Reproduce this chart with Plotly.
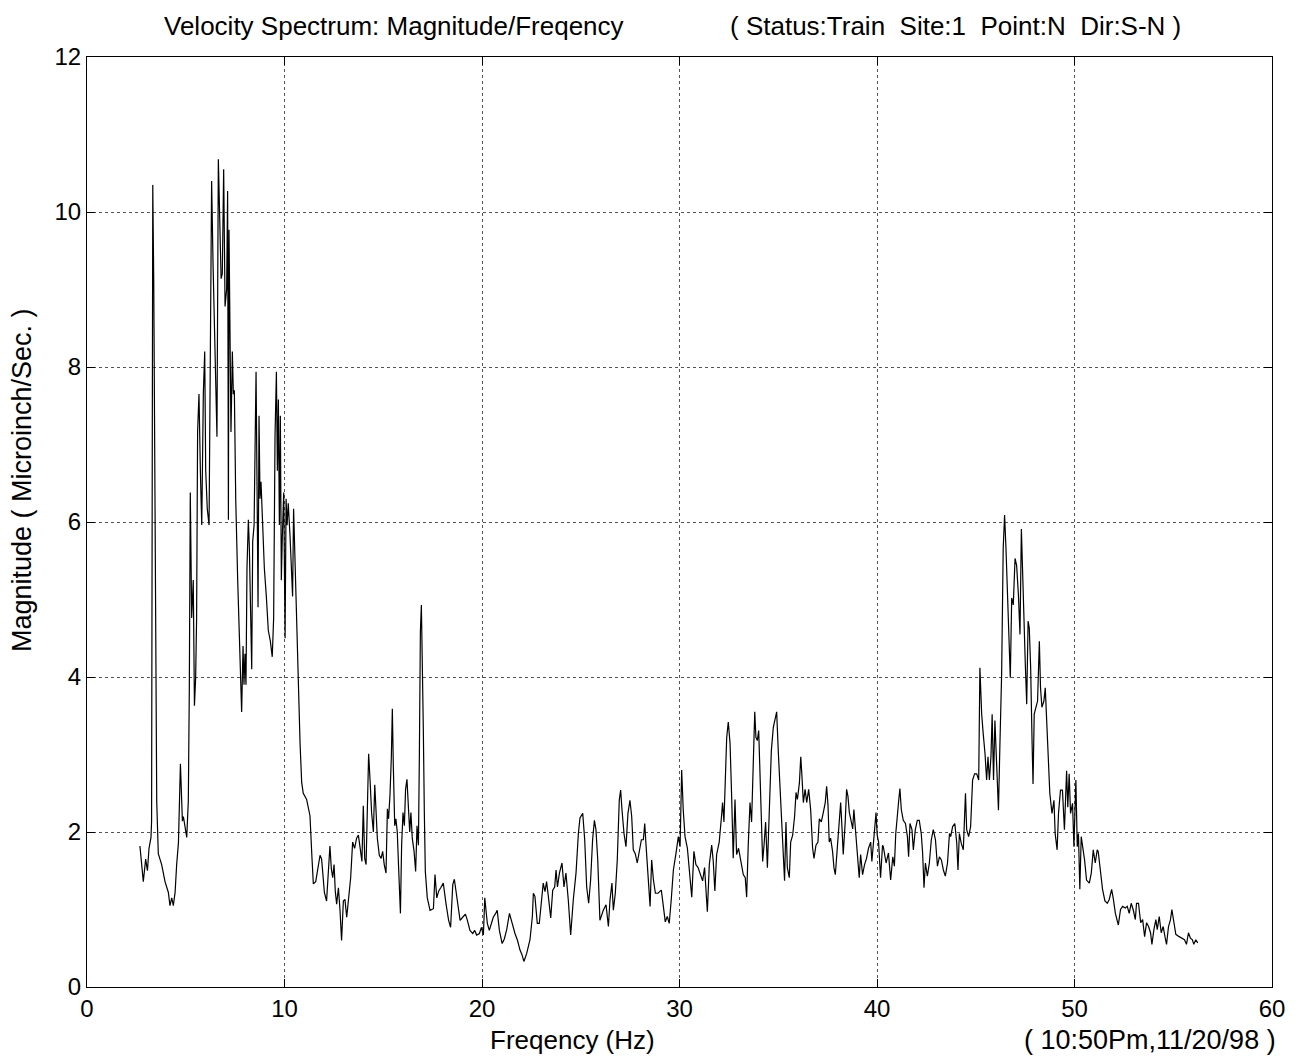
import plotly.graph_objects as go

# Velocity spectrum samples: frequency (Hz) and magnitude (microinch/sec)
freq = [
    2.68, 2.85, 2.97, 3.06, 3.14, 3.24, 3.27, 3.33, 3.38, 3.43, 3.48, 3.53, 3.61, 3.78, 3.95,
    4.12, 4.20, 4.29, 4.37, 4.46, 4.54, 4.63, 4.73, 4.83, 4.88, 4.96, 5.05, 5.13, 5.18, 5.23,
    5.30, 5.38, 5.44, 5.50, 5.55, 5.60, 5.67, 5.74, 5.81, 5.89, 5.96, 6.01, 6.09, 6.18, 6.25,
    6.31, 6.38, 6.45, 6.52, 6.58, 6.65, 6.72, 6.79, 6.85, 6.92, 6.99, 7.07, 7.12, 7.16, 7.19,
    7.24, 7.29, 7.36, 7.41, 7.46, 7.53, 7.63, 7.70, 7.76, 7.83, 7.90, 7.95, 8.00, 8.05, 8.10,
    8.17, 8.22, 8.27, 8.34, 8.39, 8.46, 8.51, 8.56, 8.61, 8.66, 8.71, 8.76, 8.81, 8.88, 8.98,
    9.08, 9.18, 9.28, 9.38, 9.45, 9.52, 9.59, 9.64, 9.69, 9.74, 9.79, 9.84, 9.89, 9.96, 10.03,
    10.08, 10.13, 10.19, 10.28, 10.36, 10.41, 10.46, 10.53, 10.62, 10.70, 10.79, 10.87, 10.95, 11.12, 11.29,
    11.38, 11.46, 11.58, 11.71, 11.80, 11.88, 12.02, 12.13, 12.30, 12.37, 12.44, 12.51, 12.57, 12.64, 12.73,
    12.81, 12.89, 12.98, 13.06, 13.15, 13.25, 13.35, 13.45, 13.55, 13.65, 13.74, 13.79, 13.86, 13.92, 13.99,
    14.06, 14.13, 14.19, 14.26, 14.33, 14.41, 14.50, 14.57, 14.63, 14.70, 14.80, 14.89, 14.97, 15.05, 15.14,
    15.21, 15.27, 15.34, 15.41, 15.46, 15.51, 15.58, 15.64, 15.71, 15.78, 15.87, 15.93, 16.00, 16.07, 16.13,
    16.20, 16.27, 16.34, 16.40, 16.47, 16.56, 16.64, 16.71, 16.78, 16.83, 16.88, 16.93, 16.98, 17.03, 17.08,
    17.13, 17.23, 17.37, 17.54, 17.62, 17.71, 17.81, 17.91, 18.04, 18.18, 18.31, 18.41, 18.52, 18.60, 18.69,
    18.79, 18.89, 19.02, 19.16, 19.26, 19.39, 19.53, 19.63, 19.73, 19.87, 19.97, 20.07, 20.14, 20.20, 20.27,
    20.37, 20.47, 20.57, 20.67, 20.77, 20.88, 21.02, 21.13, 21.25, 21.39, 21.50, 21.67, 21.80, 21.92, 22.02,
    22.12, 22.26, 22.43, 22.55, 22.60, 22.68, 22.80, 22.90, 23.02, 23.10, 23.19, 23.27, 23.36, 23.48, 23.58,
    23.68, 23.75, 23.82, 23.92, 24.05, 24.15, 24.25, 24.37, 24.49, 24.62, 24.76, 24.88, 24.96, 25.10, 25.20,
    25.30, 25.40, 25.50, 25.60, 25.69, 25.77, 25.86, 25.97, 26.14, 26.28, 26.40, 26.48, 26.58, 26.65, 26.75,
    26.85, 26.95, 27.02, 27.09, 27.19, 27.29, 27.39, 27.49, 27.58, 27.66, 27.76, 27.86, 27.96, 28.07, 28.17,
    28.24, 28.30, 28.41, 28.51, 28.59, 28.68, 28.78, 28.91, 29.08, 29.18, 29.28, 29.38, 29.48, 29.58, 29.69,
    29.82, 29.94, 30.03, 30.11, 30.19, 30.28, 30.40, 30.50, 30.62, 30.73, 30.83, 30.94, 31.07, 31.17, 31.27,
    31.41, 31.51, 31.63, 31.71, 31.79, 31.88, 32.01, 32.13, 32.18, 32.25, 32.32, 32.39, 32.47, 32.56, 32.64,
    32.72, 32.81, 32.89, 32.99, 33.10, 33.23, 33.33, 33.40, 33.48, 33.57, 33.65, 33.74, 33.81, 33.87, 33.94,
    34.01, 34.08, 34.14, 34.21, 34.28, 34.36, 34.45, 34.55, 34.65, 34.75, 34.85, 34.92, 35.00, 35.09, 35.19,
    35.26, 35.32, 35.39, 35.46, 35.56, 35.63, 35.73, 35.83, 35.90, 35.97, 36.07, 36.14, 36.20, 36.27, 36.36,
    36.44, 36.54, 36.64, 36.74, 36.81, 36.91, 37.01, 37.08, 37.18, 37.28, 37.38, 37.45, 37.52, 37.58, 37.65,
    37.75, 37.82, 37.89, 37.99, 38.09, 38.16, 38.23, 38.29, 38.39, 38.46, 38.53, 38.60, 38.70, 38.77, 38.83,
    38.93, 39.04, 39.10, 39.17, 39.27, 39.37, 39.47, 39.57, 39.68, 39.74, 39.84, 39.95, 40.01, 40.08, 40.18,
    40.28, 40.32, 40.46, 40.58, 40.69, 40.80, 40.88, 40.95, 41.01, 41.10, 41.16, 41.23, 41.33, 41.44, 41.54,
    41.60, 41.67, 41.77, 41.84, 41.94, 42.04, 42.14, 42.24, 42.31, 42.38, 42.45, 42.55, 42.65, 42.75, 42.85,
    42.96, 43.06, 43.16, 43.26, 43.36, 43.46, 43.57, 43.67, 43.73, 43.83, 43.94, 44.04, 44.10, 44.17, 44.27,
    44.37, 44.48, 44.54, 44.64, 44.74, 44.84, 44.94, 45.05, 45.15, 45.21, 45.30, 45.38, 45.47, 45.55, 45.62,
    45.69, 45.77, 45.83, 45.90, 45.97, 46.05, 46.15, 46.22, 46.31, 46.39, 46.46, 46.53, 46.59, 46.66, 46.75,
    46.82, 46.90, 46.99, 47.07, 47.16, 47.24, 47.31, 47.38, 47.44, 47.51, 47.58, 47.65, 47.71, 47.78, 47.85,
    47.90, 47.96, 48.05, 48.13, 48.22, 48.28, 48.35, 48.45, 48.52, 48.58, 48.67, 48.75, 48.86, 48.96, 49.02,
    49.12, 49.19, 49.29, 49.39, 49.49, 49.60, 49.66, 49.73, 49.80, 49.90, 49.97, 50.07, 50.14, 50.20, 50.27,
    50.34, 50.41, 50.51, 50.61, 50.75, 50.85, 50.95, 51.05, 51.15, 51.20, 51.29, 51.42, 51.54, 51.66, 51.76,
    51.88, 51.97, 52.07, 52.22, 52.33, 52.44, 52.57, 52.67, 52.77, 52.87, 52.97, 53.08, 53.14, 53.24, 53.35,
    53.45, 53.55, 53.65, 53.75, 53.85, 53.92, 54.02, 54.12, 54.19, 54.29, 54.39, 54.49, 54.58, 54.66, 54.76,
    54.86, 54.93, 55.03, 55.13, 55.30, 55.47, 55.57, 55.67, 55.77, 55.87, 55.97, 56.04, 56.14, 56.24,
]

mag = [
    1.82, 1.36, 1.65, 1.50, 1.79, 1.93, 2.14, 10.35, 9.07, 6.66, 4.00, 2.40, 1.72, 1.58, 1.36,
    1.22, 1.05, 1.15, 1.05, 1.22, 1.58, 1.86, 2.88, 2.14, 2.20, 2.07, 1.93, 2.40, 3.84, 6.38,
    4.76, 5.25, 3.63, 3.98, 4.76, 7.16, 7.65, 6.66, 5.96, 7.65, 8.20, 6.66, 6.17, 5.96, 8.10,
    10.40, 9.35, 8.43, 7.80, 7.10, 10.68, 9.85, 9.14, 9.20, 10.55, 8.78, 9.00, 10.27, 6.03, 9.77,
    8.30, 7.16, 8.20, 7.65, 7.70, 6.30, 5.25, 4.70, 4.26, 3.55, 4.40, 3.90, 4.30, 3.90, 5.40,
    6.03, 5.67, 5.10, 4.10, 5.75, 5.96, 6.95, 7.94, 6.45, 4.90, 7.37, 6.30, 6.52, 5.96, 5.40,
    5.04, 4.60, 4.47, 4.26, 4.76, 7.10, 7.94, 6.66, 7.58, 5.96, 7.37, 5.25, 5.82, 6.38, 4.50,
    6.30, 5.96, 6.24, 5.82, 5.40, 5.04, 6.17, 5.53, 4.69, 3.84, 3.13, 2.64, 2.50, 2.42, 2.21,
    1.72, 1.33, 1.36, 1.60, 1.70, 1.65, 1.22, 1.11, 1.82, 1.53, 1.41, 1.58, 1.24, 1.07, 1.28,
    0.99, 0.60, 1.11, 1.13, 0.90, 1.15, 1.41, 1.87, 1.79, 1.92, 1.96, 1.87, 1.75, 1.62, 2.34,
    1.66, 1.58, 2.25, 3.01, 2.68, 2.25, 2.00, 2.61, 2.30, 1.92, 1.70, 1.66, 1.75, 1.58, 1.47,
    2.30, 2.17, 2.47, 2.97, 3.59, 2.85, 2.08, 2.17, 2.00, 1.53, 0.95, 1.83, 2.25, 2.08, 2.55,
    2.68, 2.30, 2.00, 2.25, 1.92, 1.75, 1.49, 2.08, 1.83, 3.01, 4.58, 4.93, 4.28, 3.31, 2.25,
    1.49, 1.15, 0.99, 1.01, 1.45, 1.15, 1.24, 1.28, 1.34, 1.07, 0.86, 0.77, 1.32, 1.39, 1.24,
    1.03, 0.86, 0.90, 0.94, 0.86, 0.73, 0.69, 0.73, 0.67, 0.69, 0.77, 0.67, 1.15, 0.99, 0.82,
    0.73, 0.82, 0.90, 0.94, 0.99, 0.73, 0.56, 0.62, 0.74, 0.95, 0.84, 0.69, 0.60, 0.48, 0.42,
    0.33, 0.43, 0.61, 0.91, 1.21, 1.17, 0.82, 0.82, 1.17, 1.34, 1.23, 1.36, 1.17, 0.89, 1.25,
    1.29, 1.51, 1.29, 1.47, 1.60, 1.29, 1.47, 1.12, 0.67, 1.12, 1.47, 1.98, 2.18, 2.24, 1.90,
    1.29, 1.08, 1.38, 1.90, 2.15, 2.03, 1.64, 0.86, 0.99, 1.06, 0.78, 1.12, 1.34, 0.99, 1.21,
    1.64, 2.41, 2.54, 2.28, 1.98, 1.81, 2.24, 2.41, 2.20, 1.77, 1.72, 1.60, 1.77, 1.90, 1.90,
    2.11, 1.85, 1.38, 1.04, 1.64, 1.38, 1.21, 1.21, 1.25, 1.04, 0.84, 0.91, 0.82, 1.12, 1.51,
    1.72, 1.94, 1.81, 2.80, 2.28, 1.94, 1.79, 1.54, 1.16, 1.75, 1.58, 1.54, 1.45, 1.37, 1.54,
    0.97, 1.58, 1.83, 1.62, 1.24, 1.71, 1.87, 2.21, 2.38, 2.13, 2.72, 3.22, 3.42, 3.14, 2.46,
    1.66, 2.42, 1.71, 1.79, 1.62, 1.45, 1.41, 1.16, 1.83, 2.38, 2.13, 2.88, 3.55, 3.22, 3.18,
    3.31, 2.63, 2.00, 1.62, 1.83, 2.13, 1.54, 2.38, 3.05, 3.35, 3.47, 3.55, 3.05, 2.55, 2.13,
    1.71, 1.37, 2.13, 1.54, 1.41, 1.87, 1.96, 2.21, 2.51, 2.42, 2.63, 2.97, 2.72, 2.38, 2.55,
    2.38, 2.55, 2.29, 1.79, 1.66, 1.83, 1.87, 2.17, 2.13, 2.25, 2.38, 2.59, 2.34, 1.87, 1.92,
    1.75, 1.54, 1.45, 1.79, 2.04, 2.38, 2.04, 1.71, 2.13, 2.55, 2.46, 2.25, 2.13, 2.04, 2.29,
    1.96, 1.66, 1.41, 1.71, 1.45, 1.58, 1.66, 1.79, 1.87, 1.62, 1.96, 2.25, 1.96, 1.87, 1.41,
    1.83, 1.81, 1.60, 1.73, 1.38, 1.68, 1.56, 1.98, 2.20, 2.41, 2.56, 2.29, 2.15, 2.11, 1.94,
    1.68, 2.11, 2.03, 1.77, 2.03, 2.15, 2.15, 1.98, 1.73, 1.28, 1.60, 1.43, 1.60, 1.90, 2.03,
    1.90, 1.56, 1.68, 1.64, 1.51, 1.43, 1.60, 1.98, 1.94, 2.07, 2.11, 1.85, 1.51, 1.98, 1.85,
    1.77, 2.50, 2.03, 1.94, 2.07, 2.67, 2.75, 2.75, 2.67, 4.12, 3.52, 3.26, 3.01, 2.67, 2.97,
    2.67, 2.97, 3.52, 2.67, 3.44, 3.01, 2.28, 3.09, 4.03, 5.66, 6.09, 5.66, 5.23, 4.59, 3.99,
    5.02, 4.93, 5.53, 5.44, 5.06, 4.55, 5.91, 5.15, 4.72, 4.16, 3.65, 4.72, 4.63, 4.12, 3.18,
    2.62, 3.52, 3.61, 3.69, 4.46, 3.86, 3.61, 3.69, 3.86, 3.44, 2.88, 2.50, 2.24, 2.41, 1.98,
    1.77, 2.24, 2.54, 2.54, 2.03, 2.79, 2.32, 2.75, 2.24, 2.37, 1.81, 2.67, 1.81, 1.98, 1.26,
    1.94, 1.81, 1.64, 1.38, 1.34, 1.47, 1.77, 1.60, 1.77, 1.75, 1.56, 1.26, 1.11, 1.08, 1.13,
    1.26, 1.13, 0.95, 0.80, 1.00, 1.04, 1.02, 1.04, 0.95, 1.08, 1.00, 0.87, 1.08, 1.08, 0.83,
    0.87, 0.65, 0.83, 0.78, 0.70, 0.55, 0.74, 0.87, 0.74, 0.91, 0.70, 0.78, 0.65, 0.55, 0.78,
    0.87, 1.00, 0.83, 0.68, 0.65, 0.63, 0.61, 0.55, 0.70, 0.63, 0.61, 0.55, 0.61, 0.57,
]

x_ticks = [0, 10, 20, 30, 40, 50, 60]
y_ticks = [0, 2, 4, 6, 8, 10, 12]

title_left = "Velocity Spectrum: Magnitude/Freqency"
title_right = "( Status:Train  Site:1  Point:N  Dir:S-N )"
x_title = "Freqency (Hz)"
y_title = "Magnitude ( Microinch/Sec. )"
stamp = "( 10:50Pm,11/20/98 )"

FONT = "Liberation Sans, Arial, Helvetica, sans-serif"

fig = go.Figure()
fig.add_trace(go.Scatter(
    x=freq, y=mag, mode="lines",
    line=dict(color="black", width=1.2),
    showlegend=False, hoverinfo="skip",
))

axis_common = dict(
    showline=True, linecolor="black", linewidth=1, mirror="allticks",
    ticks="inside", ticklen=8, tickcolor="black", tickwidth=1,
    showgrid=True, gridcolor="#555555", gridwidth=1, griddash="dot",
    zeroline=False,
    tickfont=dict(family=FONT, size=24, color="black"),
)

fig.update_xaxes(range=[0, 60], tickvals=x_ticks, **axis_common)
fig.update_yaxes(range=[0, 12], tickvals=y_ticks, **axis_common)

ann_font = dict(family=FONT, size=26, color="black")
fig.update_layout(
    width=1300, height=1056,
    margin=dict(l=87, r=28, t=57, b=69),
    paper_bgcolor="white", plot_bgcolor="white",
    annotations=[
        dict(text=title_left, x=0.259, y=1.033, xref="paper", yref="paper",
             xanchor="center", yanchor="middle", showarrow=False, font=ann_font),
        dict(text=title_right, x=0.7325, y=1.033, xref="paper", yref="paper",
             xanchor="center", yanchor="middle", showarrow=False, font=ann_font),
        dict(text=x_title, x=0.41, y=-0.057, xref="paper", yref="paper",
             xanchor="center", yanchor="middle", showarrow=False, font=ann_font),
        dict(text=stamp, x=0.897, y=-0.057, xref="paper", yref="paper",
             xanchor="center", yanchor="middle", showarrow=False,
             font=dict(family=FONT, size=27, color="black")),
        dict(text=y_title, x=-0.0549, y=0.545, xref="paper", yref="paper",
             xanchor="center", yanchor="middle", showarrow=False, textangle=-90,
             font=dict(family=FONT, size=27, color="black")),
    ],
)

fig.write_html("out.html")
